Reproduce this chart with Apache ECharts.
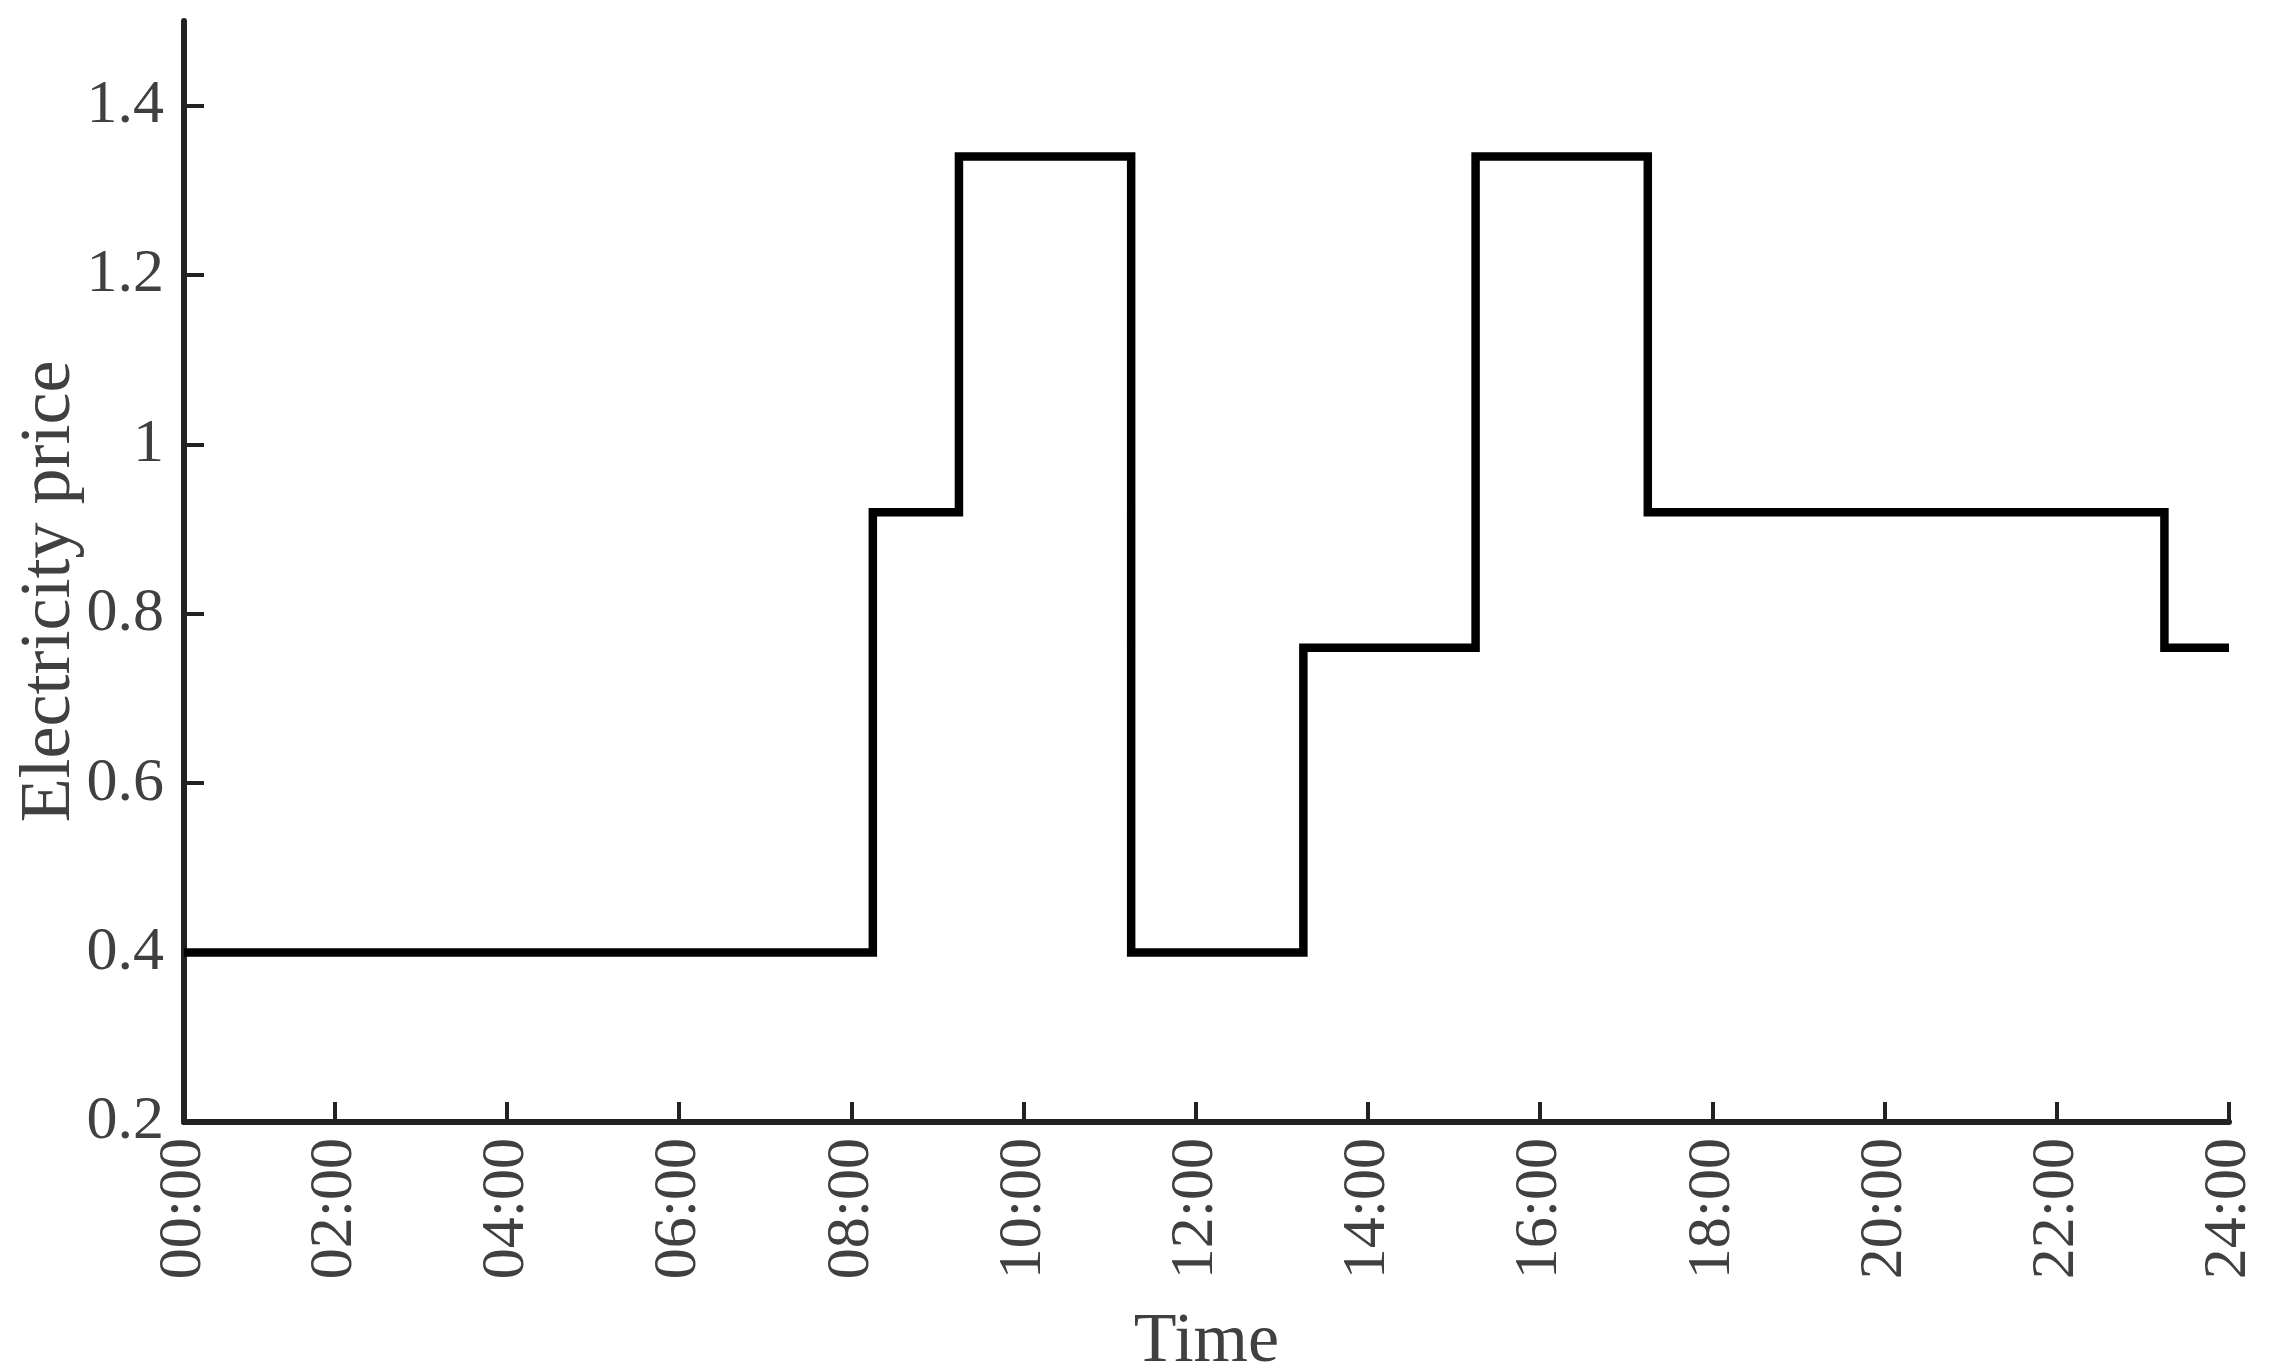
<!DOCTYPE html>
<html>
<head>
<meta charset="utf-8">
<script src="https://cdn.jsdelivr.net/npm/echarts@6/dist/echarts.min.js"></script>
<style>html,body{margin:0;padding:0;background:#fff}#c{width:2272px;height:1372px}</style>
</head>
<body>
<div id="c"></div>
<script>
// 15-minute interval index (1..96); each price holds from its start index to the next start
const stepStarts = [1, 33, 37, 45, 53, 61, 69, 93];
const stepPrices = [0.4, 0.92, 1.34, 0.4, 0.76, 1.34, 0.92, 0.76];
const lastIndex = 96;
const xTickValues = [1, 8, 16, 24, 32, 40, 48, 56, 64, 72, 80, 88, 96];
const xTickLabels = ['00:00','02:00','04:00','06:00','08:00','10:00','12:00','14:00','16:00','18:00','20:00','22:00','24:00'];
const yTickValues = [0.2, 0.4, 0.6, 0.8, 1.0, 1.2, 1.4];

const data = stepStarts.map((s, i) => [s, stepPrices[i]]);
data.push([lastIndex, stepPrices[stepPrices.length - 1]]);

const txt = '#404040';
const axisCol = '#222222';
const font = '"Liberation Serif", "Times New Roman", serif';

const chart = echarts.init(document.getElementById('c'), null, {renderer: 'canvas'});
chart.setOption({
  animation: false,
  backgroundColor: '#fff',
  grid: {left: 184, right: 43, top: 21, bottom: 250, containLabel: false, outerBoundsMode: 'none'},
  xAxis: {
    type: 'value', min: 1, max: 96,
    name: 'Time', nameLocation: 'middle', nameGap: 186, nameMoveOverlap: false,
    nameTextStyle: {fontFamily: font, fontSize: 70, color: txt},
    axisLine: {show: true, lineStyle: {color: axisCol, width: 6}},
    axisTick: {show: true, inside: true, length: 20, lineStyle: {color: axisCol, width: 4}, customValues: xTickValues},
    axisLabel: {
      rotate: 90, margin: 16, fontFamily: font, fontSize: 62, color: txt,
      customValues: xTickValues,
      formatter: v => { const i = xTickValues.indexOf(Math.round(v)); return i >= 0 ? xTickLabels[i] : ''; }
    },
    splitLine: {show: false}
  },
  yAxis: {
    type: 'value', min: 0.2, max: 1.5,
    name: 'Electricity price', nameLocation: 'middle', nameGap: 98, nameMoveOverlap: false,
    nameTextStyle: {fontFamily: font, fontSize: 72, color: txt, padding: [0, 40, 0, 0]},
    axisLine: {show: true, lineStyle: {color: axisCol, width: 6}},
    axisTick: {show: true, inside: true, length: 20, lineStyle: {color: axisCol, width: 4}, customValues: yTickValues},
    axisLabel: {
      margin: 20, fontFamily: font, fontSize: 62, color: txt,
      customValues: yTickValues,
      formatter: v => String(Math.round(v * 10) / 10)
    },
    splitLine: {show: false}
  },
  series: [{
    type: 'line', step: 'end', data: data, symbol: 'none',
    lineStyle: {color: '#000', width: 8.5, join: 'miter', cap: 'butt'},
    z: 1
  }]
});
</script>
</body>
</html>
